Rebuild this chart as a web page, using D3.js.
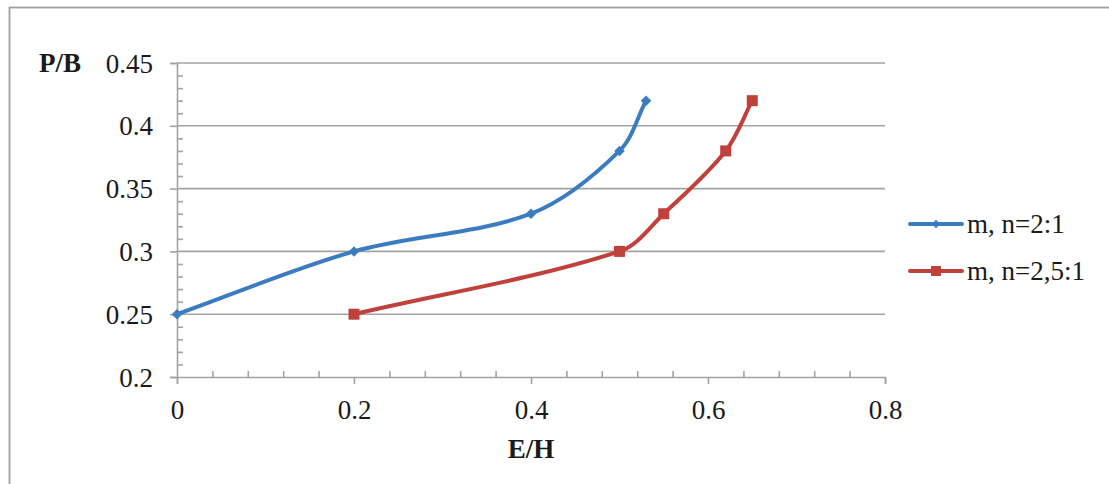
<!DOCTYPE html>
<html>
<head>
<meta charset="utf-8">
<script src="https://cdn.jsdelivr.net/npm/d3@7"></script>
<style>
  html, body { margin: 0; padding: 0; background: #fff; }
  svg { display: block; }
  text { font-family: "Liberation Serif", "Times New Roman", serif; fill: #1a1a1a; }
</style>
</head>
<body>
<svg id="chart" width="1109" height="484"></svg>
<script>
// E/H values (x) and P/B values (y) for each ratio
const ehRatio21 = [0, 0.2, 0.4, 0.5, 0.53];
const pbRatio21 = [0.25, 0.3, 0.33, 0.38, 0.42];
const ehRatio251 = [0.2, 0.5, 0.55, 0.62, 0.65];
const pbRatio251 = [0.25, 0.3, 0.33, 0.38, 0.42];

const seriesNames = ["m, n=2:1", "m, n=2,5:1"];
const xTicks = [0, 0.2, 0.4, 0.6, 0.8];
const yTicks = [0.2, 0.25, 0.3, 0.35, 0.4, 0.45];
const xMinorTicks = d3.range(0, 0.8001, 0.04).map(v => +v.toFixed(2)).filter(v => !xTicks.some(t => Math.abs(t - v) < 1e-9));
const yMinorTicks = d3.range(0.2, 0.4501, 0.01).map(v => +v.toFixed(2)).filter(v => !yTicks.some(t => Math.abs(t - v) < 1e-9));

const svg = d3.select("#chart");
const grey = "#a3a3a3";
const colors = ["#3b7cc0", "#c0403c"];
const fontSize = 27;

// outer chart frame
svg.append("rect")
  .attr("x", 9.5).attr("y", 7.5)
  .attr("width", 1120).attr("height", 500)
  .attr("fill", "none").attr("stroke", "#a0a0a0").attr("stroke-width", 1.8);

const x = d3.scaleLinear().domain([0, 0.8]).range([177, 885]);
const y = d3.scaleLinear().domain([0.2, 0.45]).range([377, 63]);

// horizontal gridlines
svg.append("g")
  .selectAll("line")
  .data(yTicks.filter(v => v > 0.2))
  .join("line")
  .attr("x1", x(0)).attr("x2", x(0.8))
  .attr("y1", d => y(d)).attr("y2", d => y(d))
  .attr("stroke", grey).attr("stroke-width", 1.6);

function styleAxis(g) {
  g.select(".domain").attr("stroke", grey).attr("stroke-width", 1.6);
  g.selectAll(".tick line").attr("stroke", grey).attr("stroke-width", 1.6);
  g.selectAll(".tick text")
    .attr("font-family", '"Liberation Serif", "Times New Roman", serif')
    .attr("font-size", fontSize).attr("fill", "#1a1a1a");
}

// y axis: major ticks outward with labels, minor ticks inward
const yAxisG = svg.append("g")
  .attr("transform", `translate(${x(0)},0)`)
  .call(d3.axisLeft(y).tickValues(yTicks).tickSize(7).tickPadding(17).tickFormat(d3.format("")));
styleAxis(yAxisG);
yAxisG.selectAll(".tick text").attr("dy", "0.34em");

const yMinorG = svg.append("g")
  .attr("transform", `translate(${x(0)},0)`)
  .call(d3.axisLeft(y).tickValues(yMinorTicks).tickSize(-6).tickFormat(""));
styleAxis(yMinorG);
yMinorG.select(".domain").remove();

// x axis: major ticks outward with labels, minor ticks inward
const xAxisG = svg.append("g")
  .attr("transform", `translate(0,${y(0.2)})`)
  .call(d3.axisBottom(x).tickValues(xTicks).tickSize(7).tickPadding(16).tickFormat(d3.format("")));
styleAxis(xAxisG);
xAxisG.selectAll(".tick text").attr("dy", "0.71em");

const xMinorG = svg.append("g")
  .attr("transform", `translate(0,${y(0.2)})`)
  .call(d3.axisBottom(x).tickValues(xMinorTicks).tickSize(-6).tickFormat(""));
styleAxis(xMinorG);
xMinorG.select(".domain").remove();

// axis titles
svg.append("text").attr("x", 60).attr("y", 72)
  .attr("text-anchor", "middle").attr("font-weight", "bold").attr("font-size", fontSize)
  .text("P/B");
svg.append("text").attr("x", 531).attr("y", 458)
  .attr("text-anchor", "middle").attr("font-weight", "bold").attr("font-size", fontSize)
  .text("E/H");

const series = [
  { name: seriesNames[0], xs: ehRatio21, ys: pbRatio21, color: colors[0], marker: "diamond" },
  { name: seriesNames[1], xs: ehRatio251, ys: pbRatio251, color: colors[1], marker: "square" }
];

// Smoothed line: cubic Bezier segments whose tangent at each point follows the
// neighbouring points, with handle lengths proportional to the adjacent segment.
function smoothPath(pts) {
  const p = d3.path();
  const n = pts.length;
  const dist = (a, b) => Math.hypot(b[0] - a[0], b[1] - a[1]);
  const handles = pts.map((pt, i) => {
    const prev = pts[Math.max(0, i - 1)];
    const next = pts[Math.min(n - 1, i + 1)];
    const tx = next[0] - prev[0], ty = next[1] - prev[1];
    const sIn = i > 0 ? dist(pts[i - 1], pt) : 0;
    const sOut = i < n - 1 ? dist(pt, pts[i + 1]) : 0;
    const tot = sIn + sOut || 1;
    return {
      inC: [pt[0] - tx * sIn / tot / 3, pt[1] - ty * sIn / tot / 3],
      outC: [pt[0] + tx * sOut / tot / 3, pt[1] + ty * sOut / tot / 3]
    };
  });
  p.moveTo(pts[0][0], pts[0][1]);
  for (let i = 1; i < n; i++) {
    const c1 = handles[i - 1].outC, c2 = handles[i].inC;
    p.bezierCurveTo(c1[0], c1[1], c2[0], c2[1], pts[i][0], pts[i][1]);
  }
  return p.toString();
}

function drawMarker(g, type, color, cx, cy, size) {
  if (type === "diamond") {
    g.append("path")
      .attr("d", d3.symbol(d3.symbolDiamond2, size || 70)())
      .attr("transform", `translate(${cx},${cy})`)
      .attr("fill", color);
  } else {
    const s = size || 11;
    g.append("rect")
      .attr("x", cx - s / 2).attr("y", cy - s / 2).attr("width", s).attr("height", s)
      .attr("fill", color);
  }
}

series.forEach(s => {
  const pts = s.xs.map((v, i) => [x(v), y(s.ys[i])]);
  const g = svg.append("g");
  g.append("path").attr("d", smoothPath(pts))
    .attr("fill", "none").attr("stroke", s.color).attr("stroke-width", 4)
    .attr("stroke-linejoin", "round").attr("stroke-linecap", "round");
  pts.forEach(p => drawMarker(g, s.marker, s.color, p[0], p[1]));
});

// legend
const legendY = [224, 271];
series.forEach((s, i) => {
  const g = svg.append("g").attr("transform", `translate(0,${legendY[i]})`);
  g.append("line").attr("x1", 910).attr("x2", 962).attr("y1", 0).attr("y2", 0)
    .attr("stroke", s.color).attr("stroke-width", 4).attr("stroke-linecap", "round");
  drawMarker(g, s.marker, s.color, 936, 0, s.marker === "diamond" ? 45 : 10);
  g.append("text").attr("x", 967).attr("y", 9).attr("font-size", fontSize).text(s.name);
});
</script>
</body>
</html>
